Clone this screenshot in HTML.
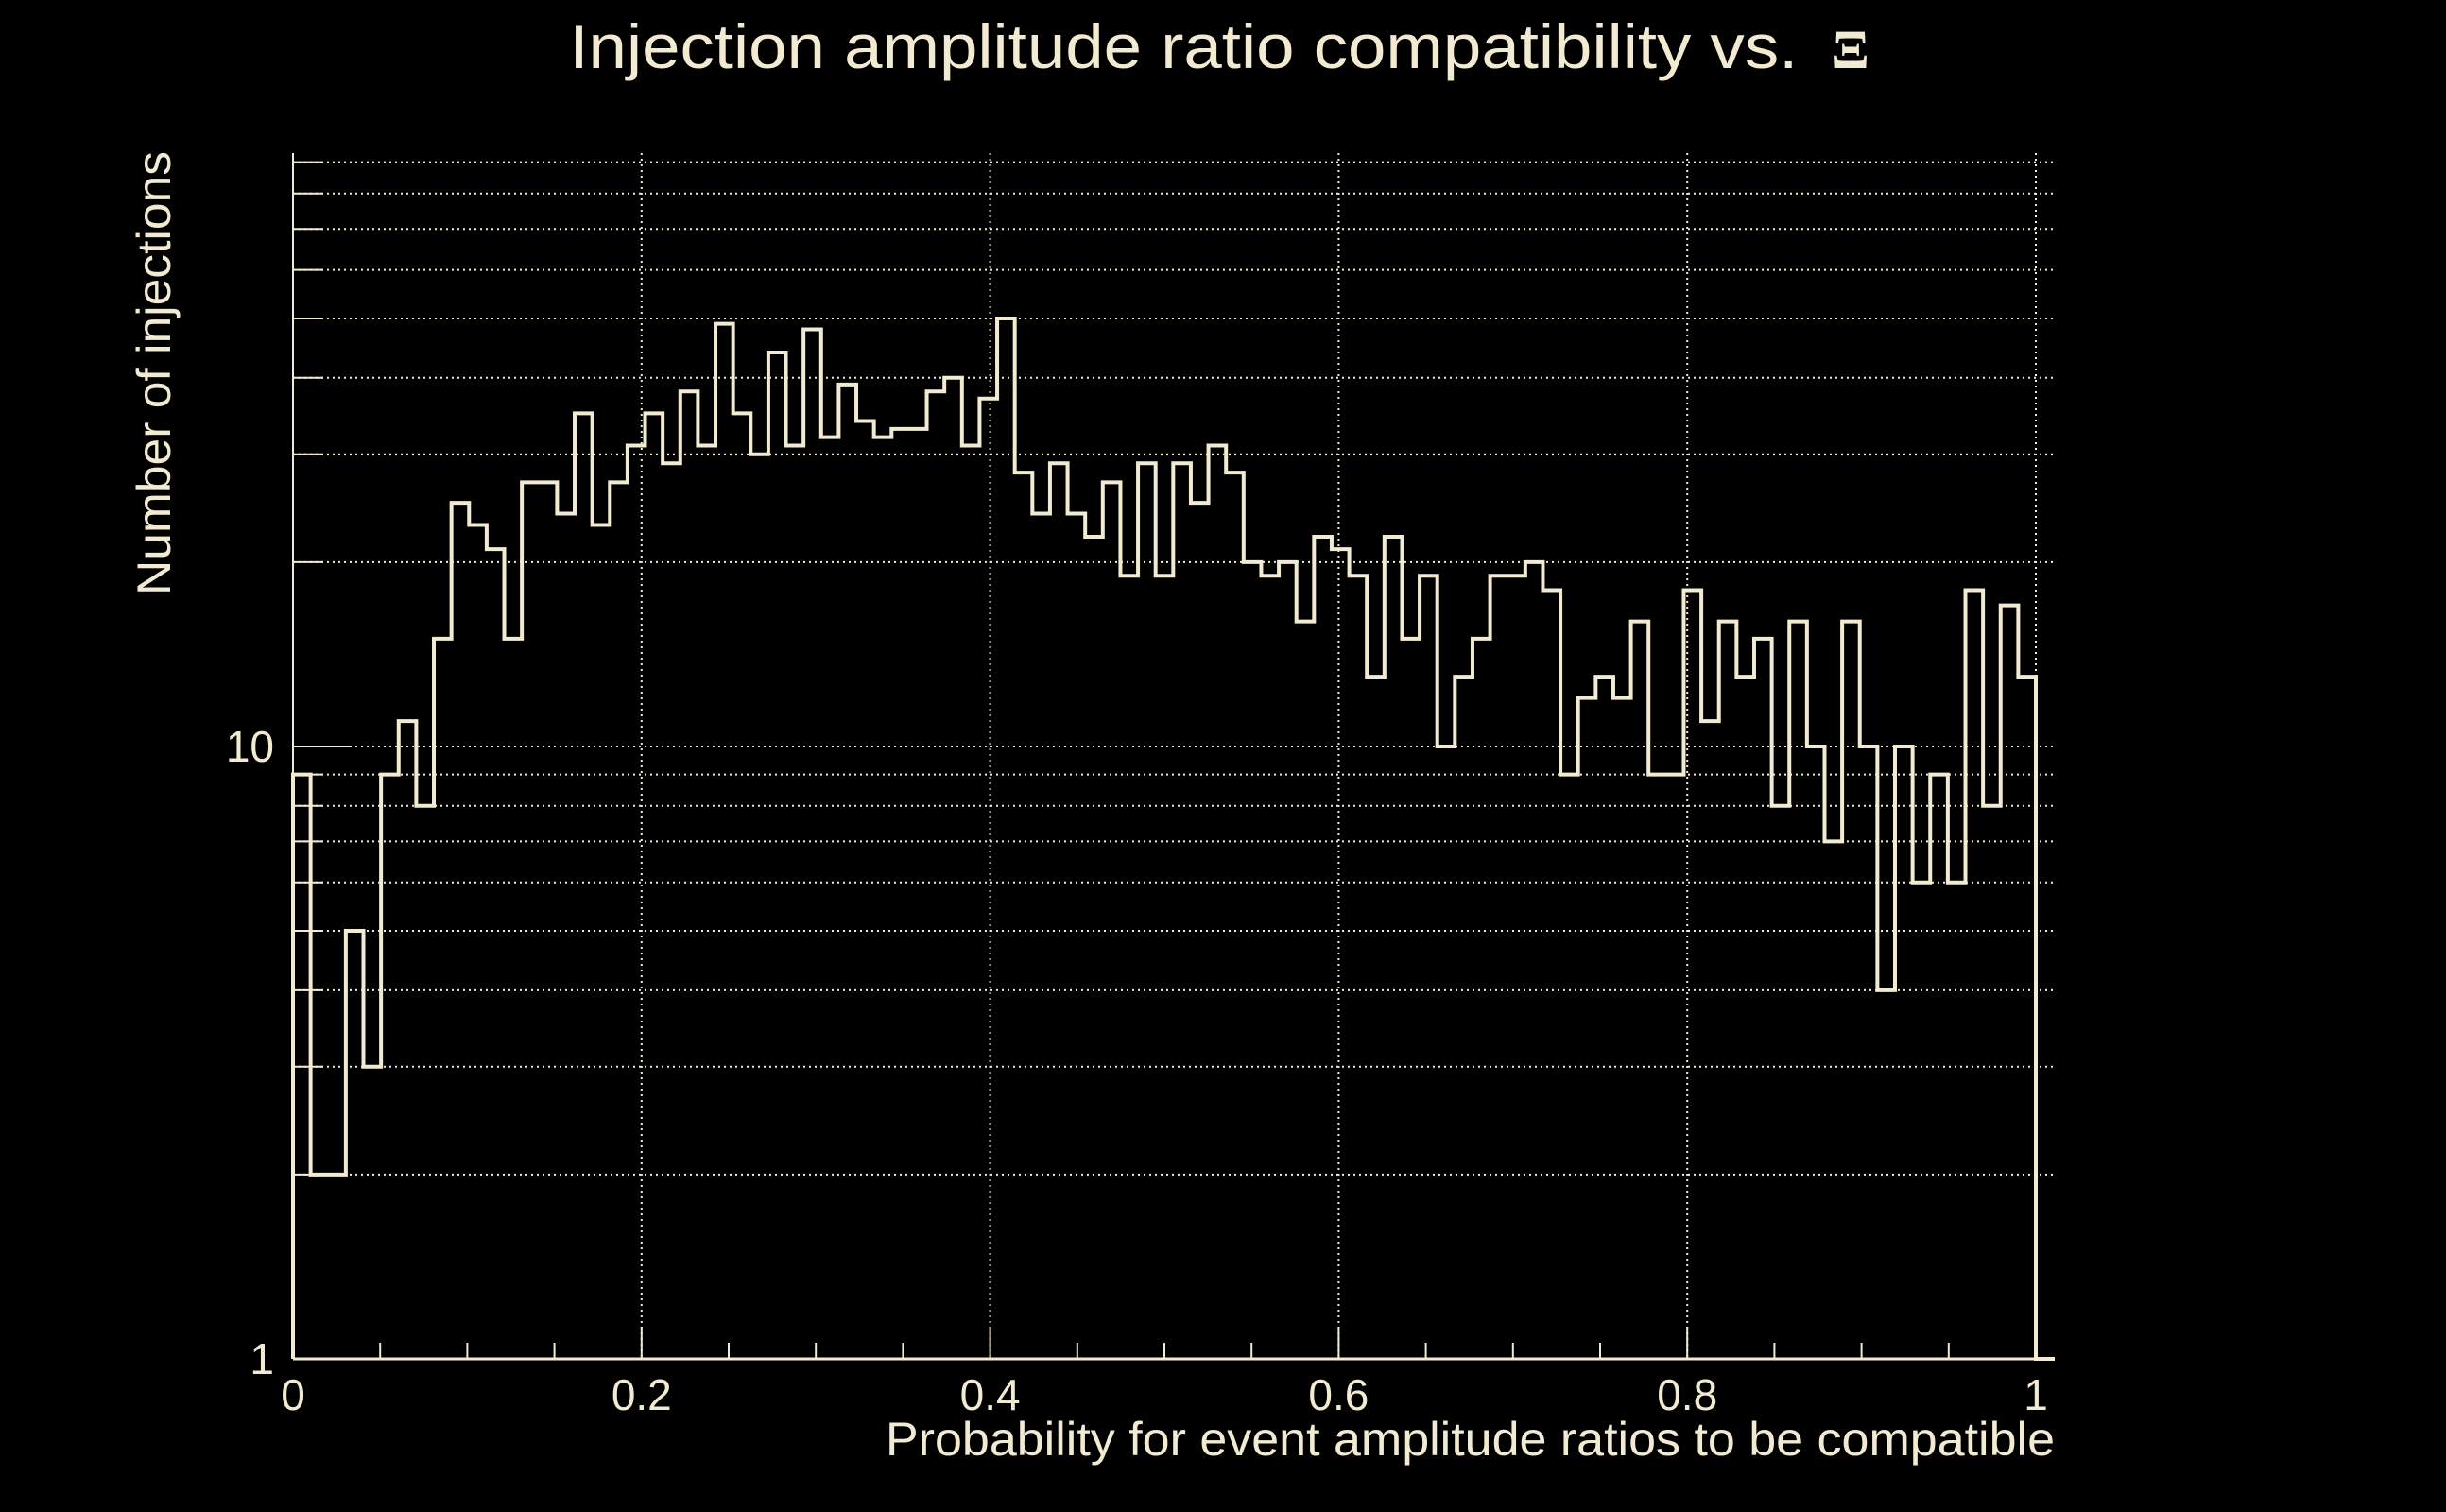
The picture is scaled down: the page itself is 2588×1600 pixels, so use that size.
<!DOCTYPE html>
<html><head><meta charset="utf-8"><style>
html,body{margin:0;padding:0;background:#000;}
svg{display:block;}
text{font-family:"Liberation Sans",sans-serif;fill:#f3ead2;}
</style></head><body>
<svg id="chart" width="2588" height="1600" viewBox="0 0 2588 1600" xmlns="http://www.w3.org/2000/svg">
<rect width="2588" height="1600" fill="#000"/>
<g id="grid"></g>
<g id="axes"></g>
<path id="hist" fill="none" stroke="#f3ead2" stroke-width="4" stroke-linejoin="miter"/>
<text x="1290" y="72" font-size="66" text-anchor="middle"><tspan textLength="1300" lengthAdjust="spacingAndGlyphs">Injection amplitude ratio compatibility vs.</tspan><tspan dx="36" font-family="Liberation Serif,serif" font-weight="bold" font-size="58">Ξ</tspan></text>
<text transform="translate(180,630) rotate(-90)" x="0" y="0" font-size="50" textLength="470" lengthAdjust="spacingAndGlyphs">Number of injections</text>
<text x="2174" y="1540" font-size="50" text-anchor="end" textLength="1237" lengthAdjust="spacingAndGlyphs">Probability for event amplitude ratios to be compatible</text>
</svg>
<script>
const binLow = 0, binHigh = 1;
const counts = [9,2,2,5,3,9,11,8,15,25,
23,21,15,27,27,24,35,23,27,31,
35,29,38,31,49,35,30,44,31,48,
32,39,34,32,33,33,38,40,31,37,
50,28,24,29,24,22,27,19,29,19,
29,25,31,28,20,19,20,16,22,21,
19,13,22,15,19,10,13,15,19,19,
20,18,9,12,13,12,16,9,9,18,
11,16,13,15,8,16,10,7,16,10,
4,10,6,9,6,18,8,17,13];
const xTicks = [0,0.2,0.4,0.6,0.8,1];
const xTickLabels = ["0","0.2","0.4","0.6","0.8","1"];
const yGridValues = [2,3,4,5,6,7,8,9,10,20,30,40,50,60,70,80,90];
const yTickLabels = [{v:1,t:"1"},{v:10,t:"10"}];

const L=310,X1=2154,R=2174,T=162,B=1438;
const logMax=1.969;
function xs(v){return L+(v-binLow)/(binHigh-binLow)*(X1-L);}
function ys(v){if(v<=1)return B;return B-Math.log10(v)/logMax*(B-T);}
const NS="http://www.w3.org/2000/svg";
const grid=document.getElementById('grid'), axes=document.getElementById('axes');
function mk(parent,tag,attrs){const e=document.createElementNS(NS,tag);for(const k in attrs)e.setAttribute(k,attrs[k]);parent.appendChild(e);return e;}
const C="#f3ead2";
yGridValues.forEach(v=>{
  const y=ys(v);
  const g=mk(grid,'line',{x1:L,x2:R,y1:y,y2:y,stroke:C,'stroke-width':2,'stroke-dasharray':'2,4'});
  
  
  const t=mk(axes,'line',{x1:L,x2:L+(v===10?60:32),y1:y,y2:y,stroke:C,'stroke-width':2});
  
  
});
xTicks.forEach((v,i)=>{
  const x=xs(v);
  if(v>0){
    const g=mk(grid,'line',{x1:x,x2:x,y1:T,y2:B,stroke:C,'stroke-width':2,'stroke-dasharray':'2,4'});
    
    
  }
  const t=mk(axes,'line',{x1:x,x2:x,y1:B,y2:B-34,stroke:C,'stroke-width':2});
  
  
  const lb=mk(axes,'text',{x:x,y:1492,'font-size':46,'text-anchor':'middle'});
  lb.textContent=xTickLabels[i];
  
  
});
for(let k=1;k<20;k++){
  if(k%4===0)continue;
  const x=xs(k*0.05);
  const t=mk(axes,'line',{x1:x,x2:x,y1:B,y2:B-17,stroke:C,'stroke-width':2});
  
  
}
yTickLabels.forEach(o=>{
  const lb=mk(axes,'text',{x:290,y:ys(o.v)+16,'font-size':46,'text-anchor':'end'});
  lb.textContent=o.t;
  
  
});
const ax=mk(axes,'line',{x1:L,x2:L,y1:T,y2:B,stroke:C,'stroke-width':2});


const bx=mk(axes,'line',{x1:L,x2:R,y1:B,y2:B,stroke:C,'stroke-width':3});



const n=counts.length, w=(binHigh-binLow)/n;
let d="M"+xs(binLow)+","+B;
counts.forEach((c,i)=>{
  const y=ys(c);
  d+=" L"+xs(binLow+i*w)+","+y+" L"+xs(binLow+(i+1)*w)+","+y;
});
d+=" L"+xs(binHigh)+","+B+" L"+R+","+B;
document.getElementById('hist').setAttribute('d',d);
</script>
</body></html>
